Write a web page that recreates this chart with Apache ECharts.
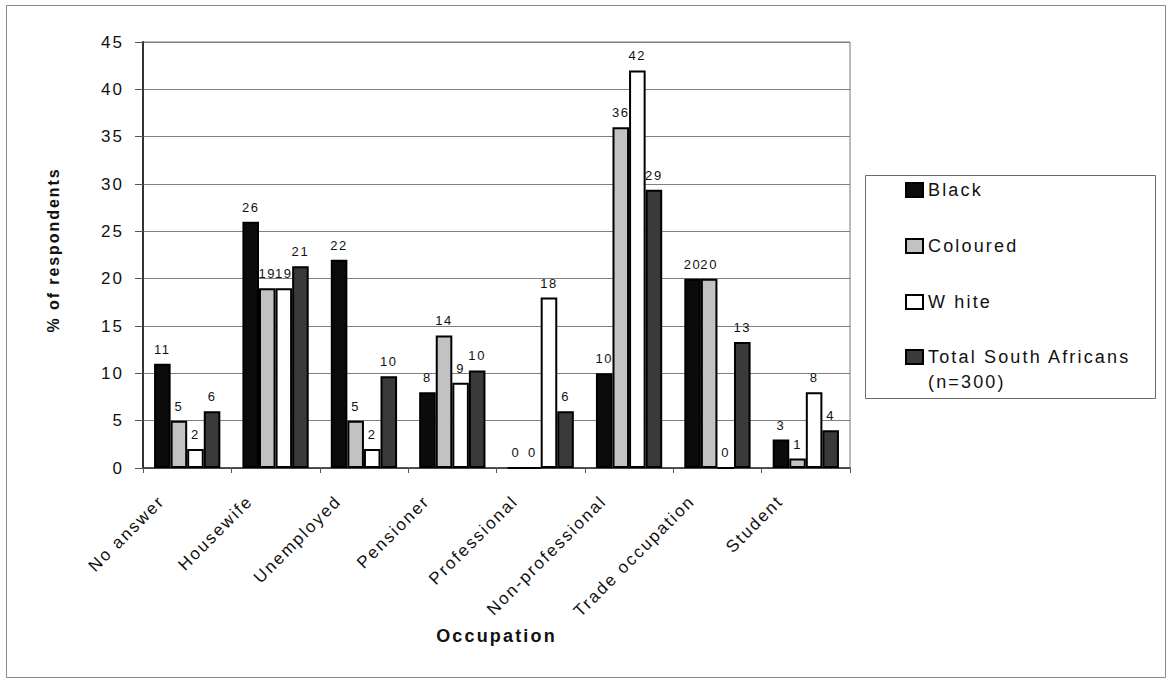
<!DOCTYPE html>
<html>
<head>
<meta charset="utf-8">
<script src="https://cdn.jsdelivr.net/npm/echarts@6/dist/echarts.min.js"></script>
<style>
  html, body { margin: 0; padding: 0; background: #fff; }
  #chart { width: 1170px; height: 680px; }
  /* wide, spaced lettering used throughout the chart */
  #chart svg text { letter-spacing: 0.12em; }
</style>
</head>
<body>
<div id="chart"></div>
<script>
// Occupation of respondents by population group (% of respondents)
const categories = ['No answer', 'Housewife', 'Unemployed', 'Pensioner', 'Professional',
                    'Non-professional', 'Trade occupation', 'Student'];
const blackValues    = [11, 26, 22, 8, 0, 10, 20, 3];
const colouredValues = [5, 19, 5, 14, 0, 36, 20, 1];
const whiteValues    = [2, 19, 2, 9, 18, 42, 0, 8];
const totalValues    = [6, 21.3, 9.7, 10.3, 6, 29.4, 13.3, 4];
const seriesNames = ['Black', 'Coloured', 'W hite', 'Total South Africans\n(n=300)'];
const yTicks = { min: 0, max: 45, step: 5 };

const FONT = "'Liberation Sans', Arial, sans-serif";
const fills = ['#0b0b0b', '#c2c2c2', '#ffffff', '#3a3a3a'];
const valueSets = [blackValues, colouredValues, whiteValues, totalValues];

const chart = echarts.init(document.getElementById('chart'), null, { renderer: 'svg' });

const series = valueSets.map((vals, i) => ({
  name: seriesNames[i],
  type: 'bar',
  data: vals,
  barGap: '0%',
  barCategoryGap: '25%',
  itemStyle: { color: fills[i], borderColor: '#000', borderWidth: 2 },
  label: {
    show: true,
    position: 'top',
    distance: 8,
    fontFamily: FONT,
    fontSize: 13,
    color: '#111',
    formatter: p => String(Math.round(p.value))
  },
  emphasis: { disabled: true }
}));

const legendCommon = {
  orient: 'vertical',
  left: 905,
  itemWidth: 17,
  itemHeight: 14,
  icon: 'rect',
  padding: 0,
  selectedMode: false,
  itemStyle: { borderColor: '#000', borderWidth: 2 },
  textStyle: { fontFamily: FONT, fontSize: 18, color: '#111', lineHeight: 25 }
};

chart.setOption({
  animation: false,
  backgroundColor: '#fff',
  textStyle: { fontFamily: FONT },
  grid: { left: 143, top: 42, right: 320, bottom: 212, show: true, borderColor: '#777', borderWidth: 1 },
  legend: [
    Object.assign({}, legendCommon, {
      top: 177.5,
      itemGap: 31,
      data: seriesNames.slice(0, 3)
    }),
    // two-line entry: an empty leading line keeps the icon beside the first text line
    Object.assign({}, legendCommon, {
      top: 319.5,
      data: seriesNames.slice(3),
      formatter: name => '\n' + name
    })
  ],
  xAxis: {
    type: 'category',
    data: categories,
    name: 'Occupation',
    nameLocation: 'middle',
    nameGap: 159,
    nameTextStyle: { fontFamily: FONT, fontSize: 18, fontWeight: 'bold', color: '#111' },
    axisLine: { lineStyle: { color: '#333', width: 1.5 } },
    axisTick: { show: true, length: 5, lineStyle: { color: '#555' } },
    axisLabel: {
      rotate: 45,
      interval: 0,
      margin: 5,
      padding: [0, 36, 0, 0],
      fontFamily: FONT,
      fontSize: 17,
      color: '#111'
    }
  },
  yAxis: {
    type: 'value',
    min: yTicks.min,
    max: yTicks.max,
    interval: yTicks.step,
    name: '% of respondents',
    nameLocation: 'middle',
    nameGap: 82,
    nameTextStyle: { fontFamily: FONT, fontSize: 16, fontWeight: 'bold', color: '#111', padding: [0, 0, 0, 10] },
    axisLine: { show: true, lineStyle: { color: '#333', width: 2 } },
    axisTick: { show: true, length: 8, lineStyle: { color: '#555' } },
    axisLabel: { margin: 19, fontFamily: FONT, fontSize: 17, color: '#111' },
    splitLine: { lineStyle: { color: '#808080', width: 1 } }
  },
  graphic: [
    {
      type: 'rect', silent: true, z: -1,
      shape: { x: 6.5, y: 5.5, width: 1159, height: 672 },
      style: { fill: 'none', stroke: '#8a8a8a', lineWidth: 1 }
    },
    {
      type: 'rect', silent: true, z: -1,
      shape: { x: 865.5, y: 175.5, width: 290, height: 223 },
      style: { fill: '#fff', stroke: '#6a6a6a', lineWidth: 1 }
    }
  ],
  series: series
});
</script>
</body>
</html>
